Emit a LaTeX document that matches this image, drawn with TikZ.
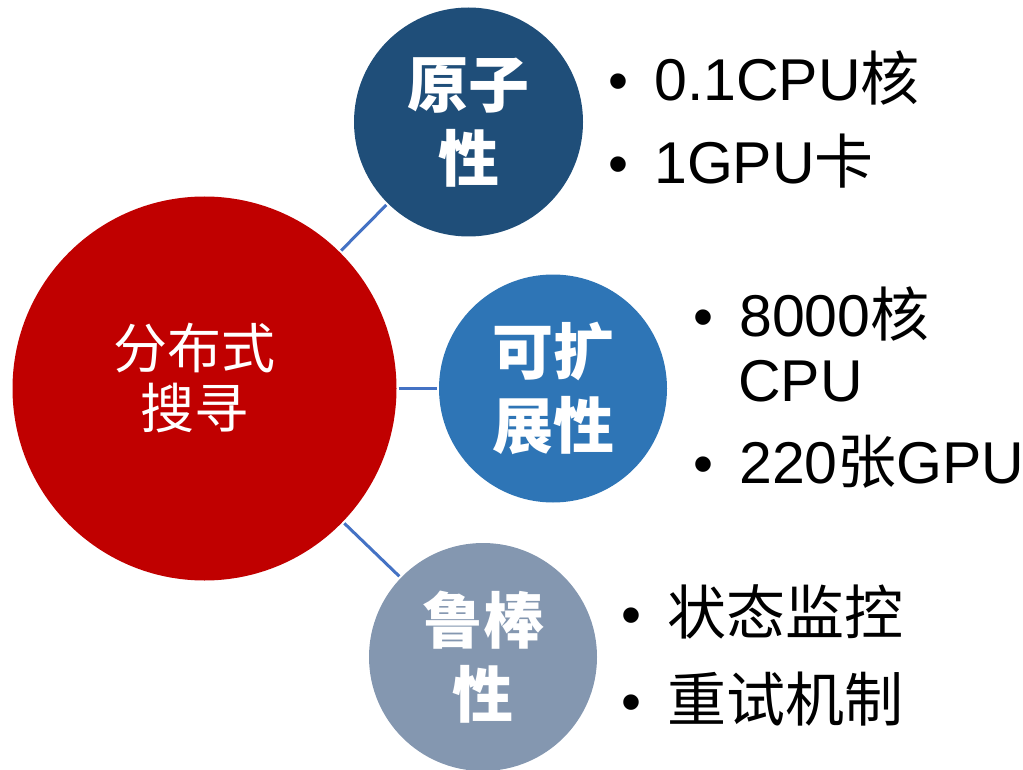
\documentclass[tikz,border=0pt]{standalone}
\usepackage{fontspec}
\setmainfont{Liberation Sans}
\newfontfamily\cjk{Noto Sans CJK SC}
\definecolor{cred}{HTML}{C00000}
\definecolor{ctop}{HTML}{1F4E79}
\definecolor{cmid}{HTML}{2E75B6}
\definecolor{cbot}{HTML}{8497B0}
\definecolor{cline}{HTML}{4472C4}
\begin{document}
\begin{tikzpicture}[x=1pt,y=-1pt,
  circ/.style={circle, inner sep=0pt, draw=none, text=white, align=center},
  bigtxt/.style={text=white, inner sep=0pt, align=center, font=\cjk\fontsize{54}{60}\selectfont},
  ctxt/.style={font=\cjk\bfseries\fontsize{61}{74}\selectfont},
  conn/.style={draw=cline, line width=3pt, shorten <=2pt, shorten >=2pt},
  item/.style={inner sep=0pt, font=\fontsize{59}{68}\selectfont, text=black},
  bul/.style={inner sep=0pt, anchor=base, font=\fontsize{57}{68}\selectfont, text=black}]
\useasboundingbox (0,0) rectangle (1023,770);

% circles
\node[circ, fill=cred, minimum size=384pt] (big) at (204.5,388.5) {};
\node[bigtxt] (bigt) at (194,378) {分布式\\搜寻};
\node[circ, fill=ctop, minimum size=229pt, ctxt] (top) at (468.5,122) {原子\\性};
\node[circ, fill=cmid, minimum size=228pt, ctxt] (mid) at (553,388.5) {可扩\\展性};
\node[circ, fill=cbot, minimum size=228pt, ctxt] (bot) at (483,657) {鲁棒\\性};

% connectors
\draw[conn] (big) -- (top);
\draw[conn] (big) -- (mid);
\draw[conn] (big) -- (bot);

% top list
\node[bul] (b1) at (618,101) {•};
\node[item, anchor=base west] (t1) at (654,101) {0.1CPU{\cjk 核}};
\node[bul] (b2) at (618,184) {•};
\node[item, anchor=base west] (t2) at (654,184) {1GPU{\cjk 卡}};

% middle list
\node[bul] (b3) at (703,336) {•};
\node[item, anchor=base west] (t3) at (739,336) {8000{\cjk 核}};
\node[item, anchor=base west] (t3b) at (738,401) {CPU};
\node[bul] (b4) at (703,483) {•};
\node[item, anchor=base west] (t4) at (739,483) {220{\cjk 张}GPU};

% bottom list
\node[bul] (b5) at (631,634) {•};
\node[item, anchor=base west] (t5) at (667,634) {\cjk 状态监控};
\node[bul] (b6) at (631,721) {•};
\node[item, anchor=base west] (t6) at (667,721) {\cjk 重试机制};
\end{tikzpicture}
\end{document}
